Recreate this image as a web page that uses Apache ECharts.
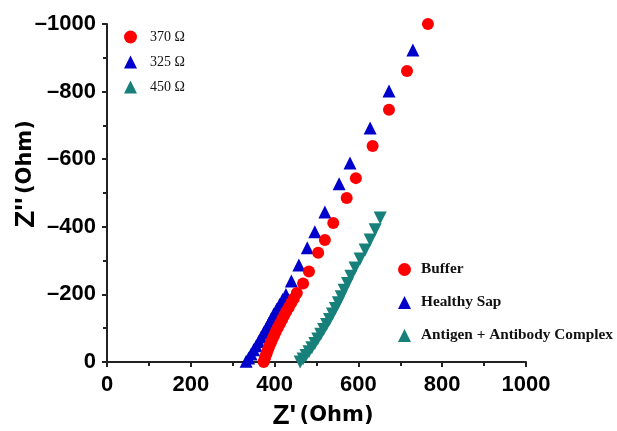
<!DOCTYPE html>
<html>
<head>
<meta charset="utf-8">
<script src="https://cdn.jsdelivr.net/npm/echarts@6/dist/echarts.min.js"></script>
<style>
  html, body { margin: 0; padding: 0; background: #fff; }
  #chart { width: 617px; height: 431px; }
</style>
</head>
<body>
<div id="chart"></div>
<script>
// Z' (Ohm) / Z'' (Ohm) pairs
var bufferPts = [
    [766, -1000], [716, -861], [673, -746], [634, -639], [594, -544], [572, -485],
    [540, -411], [520, -361], [504, -323], [482, -268], [468, -232], [453, -204],
    [446, -188], [440, -175], [434, -162], [428, -150], [423, -138], [418, -126],
    [413, -114], [408, -102], [403, -90], [399, -79], [395, -68], [391, -57],
    [387, -46], [384, -36], [381, -26], [378, -17], [376, -8], [374, 0]
];
var sapPts = [
    [730, -923], [673, -802], [628, -692], [580, -589], [554, -527], [520, -444],
    [496, -385], [478, -338], [458, -287], [440, -240], [427, -200],
    [419, -185], [412, -170], [405, -156], [398, -142], [392, -128], [386, -114],
    [380, -100], [374, -87], [368, -74], [362, -61], [356, -48], [350, -36],
    [344, -24], [338, -12], [332, -2]
];
var complexPts = [
    [652, -426], [640, -391], [628, -361], [616, -331], [604, -305], [592, -278],
    [582, -254], [574, -232], [566, -212], [559, -193], [552, -175], [545, -158],
    [538, -142], [531, -126], [524, -111], [517, -96], [510, -82], [503, -68],
    [496, -55], [489, -42], [482, -30], [475, -19], [468, -9], [461, 0]
];
var seriesNames = ['Buffer', 'Healthy Sap', 'Antigen + Antibody Complex'];
var resistLabels = ['370 \u03A9', '325 \u03A9', '450 \u03A9'];
var xTicks = [0, 1000, 200];     // min, max, step
var yTicks = [-1000, 0, 200];

var colors = ['#ff0000', '#0000cc', '#18807a'];

function tickFmt(v) {
    return v < 0 ? '\u2013' + Math.abs(v) : String(v);
}

var nameRich = {
    z: { fontFamily: 'Liberation Sans', fontWeight: 'bold', fontSize: 28, color: '#000' },
    o: { fontFamily: 'DejaVu Sans', fontWeight: 'bold', fontSize: 21, color: '#000' }
};

var chartA = echarts.init(document.getElementById('chart'));
var option = {
    animation: false,
    backgroundColor: '#fff',
    grid: { left: 107, right: 91, top: 24, bottom: 69, outerBoundsMode: 'none', containLabel: false },
    legend: [
        {
            orient: 'vertical',
            left: 119, top: 25,
            itemWidth: 13, itemHeight: 13, itemGap: 11,
            symbolRotate: 0,
            data: [
                { name: seriesNames[0], icon: 'circle' },
                { name: seriesNames[1], icon: 'triangle' },
                { name: seriesNames[2], icon: 'triangle' }
            ],
            formatter: function (name) {
                return resistLabels[seriesNames.indexOf(name)];
            },
            textStyle: { fontFamily: 'Liberation Serif', fontSize: 14, color: '#111', padding: [0, 0, 0, 8] }
        },
        {
            orient: 'vertical',
            left: 393, top: 257,
            itemWidth: 13, itemHeight: 13, itemGap: 18,
            symbolRotate: 0,
            data: [
                { name: seriesNames[0], icon: 'circle' },
                { name: seriesNames[1], icon: 'triangle' },
                { name: seriesNames[2], icon: 'triangle' }
            ],
            textStyle: { fontFamily: 'Liberation Serif', fontSize: 15.3, fontWeight: 'bold', color: '#111', padding: [0, 0, 0, 5] }
        }
    ],
    xAxis: {
        type: 'value',
        min: xTicks[0], max: xTicks[1], interval: xTicks[2],
        name: "{z|Z'} {o|(Ohm)}",
        nameLocation: 'middle',
        nameGap: 40,
        nameMoveOverlap: false,
        nameTextStyle: { padding: [0, 0, 0, 13], rich: nameRich },
        axisLine: { lineStyle: { color: '#222', width: 2 } },
        axisTick: { length: 5, lineStyle: { color: '#222', width: 2 } },
        minorTick: { show: true, splitNumber: 2, length: 4, lineStyle: { color: '#222', width: 2 } },
        splitLine: { show: false },
        axisLabel: {
            margin: 12,
            fontFamily: 'Liberation Sans', fontWeight: 'bold', fontSize: 22, color: '#000',
            formatter: tickFmt
        }
    },
    yAxis: {
        type: 'value',
        inverse: true,
        min: yTicks[0], max: yTicks[1], interval: yTicks[2],
        name: "{z|Z''} {o|(Ohm)}",
        nameLocation: 'middle',
        nameGap: 67,
        nameMoveOverlap: false,
        nameTextStyle: { padding: [0, 0, 0, 38], rich: nameRich },
        axisLine: { lineStyle: { color: '#222', width: 2 } },
        axisTick: { length: 5, lineStyle: { color: '#222', width: 2 } },
        minorTick: { show: true, splitNumber: 2, length: 4, lineStyle: { color: '#222', width: 2 } },
        splitLine: { show: false },
        axisLabel: {
            margin: 11,
            fontFamily: 'Liberation Sans', fontWeight: 'bold', fontSize: 22, color: '#000',
            formatter: tickFmt
        }
    },
    series: [
        {
            name: seriesNames[0],
            type: 'scatter',
            symbol: 'circle',
            symbolSize: 12,
            itemStyle: { color: colors[0], opacity: 1 },
            data: bufferPts,
            z: 3
        },
        {
            name: seriesNames[1],
            type: 'scatter',
            symbol: 'triangle',
            symbolSize: 13,
            itemStyle: { color: colors[1], opacity: 1 },
            data: sapPts,
            z: 2
        },
        {
            name: seriesNames[2],
            type: 'scatter',
            symbol: 'triangle',
            symbolRotate: 180,
            symbolSize: 13,
            itemStyle: { color: colors[2], opacity: 1 },
            data: complexPts,
            z: 2
        }
    ]
};

chartA.setOption(option);
</script>
</body>
</html>
